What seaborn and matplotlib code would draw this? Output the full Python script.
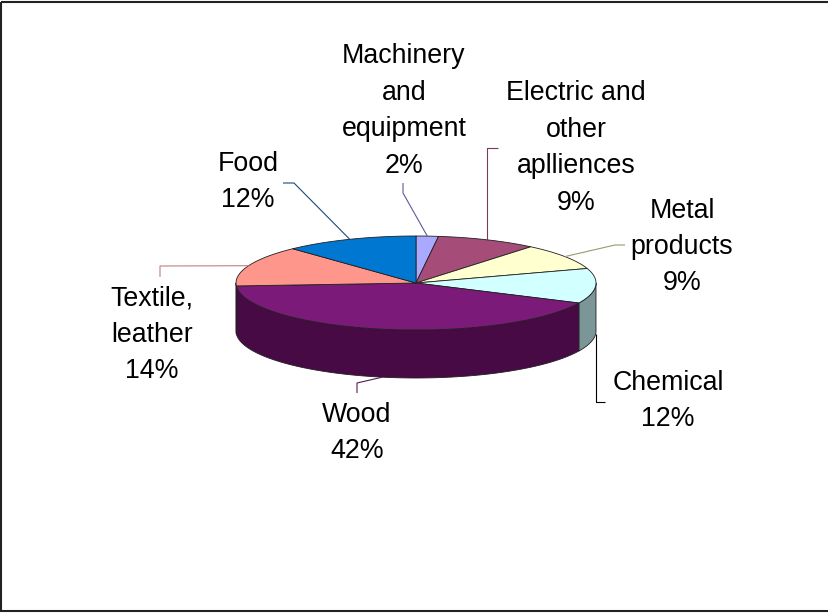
import numpy as np
import matplotlib
matplotlib.use("Agg")
import matplotlib.pyplot as plt
from matplotlib.patches import Polygon, Rectangle
import seaborn as sns

# Industry structure (shares in percent), clockwise from 12 o'clock
categories = ["Machinery\nand\nequipment", "Electric and\nother\naplliences",
              "Metal\nproducts", "Chemical", "Wood", "Textile,\nleather", "Food"]
shares = [2, 9, 9, 12, 42, 14, 12]

top_colors = ["#A9A9FF", "#A64C78", "#FFFFD0", "#D2FFFF", "#7B1A78", "#FF968C", "#0078D2"]
side_colors = ["#5E5E8E", "#5C2A42", "#8E8E74", "#7A9696", "#470A45", "#8C5250", "#00437A"]
leader_colors = ["#5A5A9A", "#7A3A5A", "#9A9A70", "#000000", "#5A1A5A", "#C08080", "#1A4A7A"]

sns.set_theme(style="white")
plt.rcParams["font.family"] = ["Liberation Sans", "DejaVu Sans"]

W, H = 829, 614
fig = plt.figure(figsize=(W / 100, H / 100), dpi=100)
ax = fig.add_axes([0, 0, 1, 1])
ax.set_xlim(0, W)
ax.set_ylim(H, 0)
ax.axis("off")

# pie geometry in pixel units
cx, cy, rx, ry, depth = 416, 283, 180, 47, 48


def rim(theta_deg, drop=0.0):
    t = np.radians(theta_deg)
    return cx + rx * np.sin(t), cy - ry * np.cos(t) + drop


fracs = np.array(shares, dtype=float) / np.sum(shares)
bounds = np.concatenate([[0.0], np.cumsum(fracs) * 360.0])

# visible front walls
for i in range(len(shares)):
    a, b = bounds[i], bounds[i + 1]
    lo, hi = max(a, 90.0), min(b, 270.0)
    if hi <= lo:
        continue
    th = np.linspace(lo, hi, 80)
    upper = [rim(t) for t in th]
    lower = [rim(t, depth) for t in th[::-1]]
    ax.add_patch(Polygon(upper + lower, closed=True, facecolor=side_colors[i],
                         edgecolor="#202020", linewidth=0.6, zorder=2))

# top faces
for i in range(len(shares)):
    a, b = bounds[i], bounds[i + 1]
    th = np.linspace(a, b, 120)
    pts = [(cx, cy)] + [rim(t) for t in th]
    ax.add_patch(Polygon(pts, closed=True, facecolor=top_colors[i],
                         edgecolor="#202020", linewidth=0.6, zorder=3))

# label placement (block centres) and leader elbows
label_xy = [(404, 111), (576, 148), (682, 247), (668, 401), (357, 433), (152, 335), (248, 182)]
leader_start = [(403, 183), (498, 148), (625, 245), (605, 402), (357, 393), (160, 277), (283, 183)]
leader_elbow = [(403, 193), (None, 148), (615, 245), (None, 402), (357, 383), (160, 266), (294, 183)]

for i in range(len(shares)):
    mid = 0.5 * (bounds[i] + bounds[i + 1])
    front = 90.0 < mid < 270.0
    ax_, ay_ = rim(mid, depth if front else 0.0)
    ex, ey = leader_elbow[i]
    if ex is None:
        ex = ax_
    sx, sy = leader_start[i]
    ax.plot([sx, ex, ax_], [sy, ey, ay_], color=leader_colors[i], lw=0.8,
            zorder=4, solid_capstyle="butt")
    lx, ly = label_xy[i]
    ax.text(lx, ly, f"{categories[i]}\n{shares[i]}%", ha="center", va="center",
            multialignment="center", fontsize=19.3, linespacing=1.52,
            color="#000000", zorder=5)

# chart border
ax.add_patch(Rectangle((1.5, 1.5), W + 10, 609.5, fill=False,
                       edgecolor="#222222", linewidth=1.5, zorder=6))

fig.savefig("out.png", dpi=100)
